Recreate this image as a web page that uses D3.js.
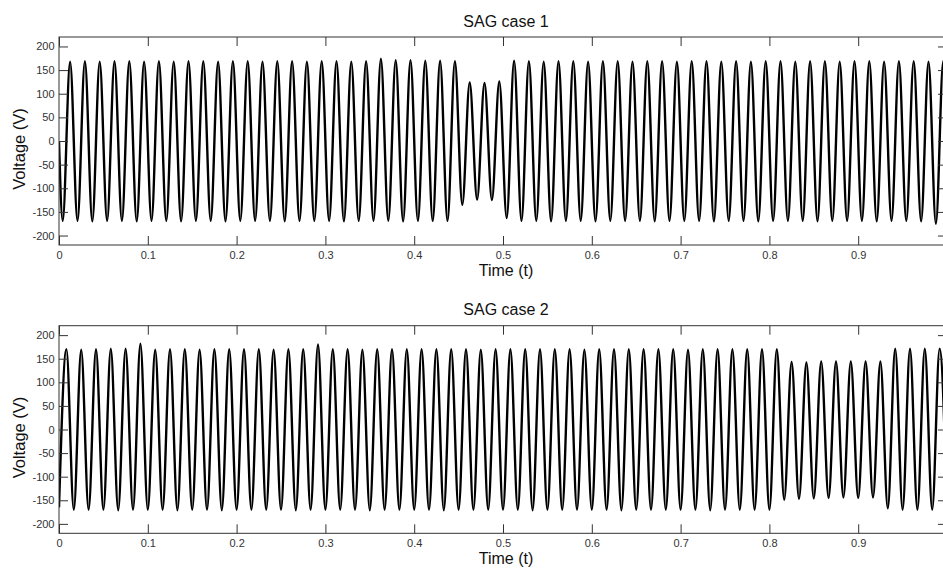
<!DOCTYPE html>
<html>
<head>
<meta charset="utf-8">
<script src="https://cdn.jsdelivr.net/npm/d3@7"></script>
<style>
  body { margin: 0; background: #fff; }
  text { font-family: Arial, "Liberation Sans", sans-serif; }
</style>
</head>
<body>
<svg id="chart" width="943" height="571"></svg>
<script>
// Axis ticks and labels
const xTicks = [0, 0.1, 0.2, 0.3, 0.4, 0.5, 0.6, 0.7, 0.8, 0.9];
const yTicks = [-200, -150, -100, -50, 0, 50, 100, 150, 200];
const titles = ["SAG case 1", "SAG case 2"];
const xLabel = "Time (t)";
const yLabel = "Voltage (V)";

// 60 Hz supply: one extreme every half cycle
const halfCycle = 1 / 120;

// Case 1: starts at zero, first extreme (trough) at 1/240 s; trough/peak pairs per cycle
const case1Start = 0;
const case1End = 0;
const case1Extremes = [
  -169, 168, -169, 169, -170, 168, -169, 169, -169, 169,
  -170, 168, -169, 169, -169, 168, -170, 169, -169, 169,
  -169, 168, -170, 169, -169, 169, -169, 168, -169, 169,
  -170, 169, -169, 168, -169, 169, -169, 169, -170, 168,
  -169, 169, -169, 174, -169, 171, -170, 171, -169, 170,
  -169, 170, -169, 169, -135, 124, -124, 123, -125, 126,
  -163, 170, -169, 169, -169, 168, -170, 169, -169, 169,
  -169, 168, -170, 169, -169, 169, -169, 168, -169, 169,
  -170, 169, -169, 168, -169, 169, -169, 169, -170, 168,
  -169, 169, -169, 168, -170, 169, -169, 169, -169, 168,
  -169, 169, -170, 169, -169, 168, -169, 169, -169, 169,
  -170, 168, -169, 169, -169, 169, -170, 168, -175, 169
];

// Case 2: starts at a trough at 0 s; trough/peak pairs per cycle, closing trough at 1 s
const case2Extremes = [
  -165, 170, -170, 169, -170, 170, -170, 171, -171, 171,
  -170, 182, -170, 169, -170, 170, -171, 170, -170, 169,
  -170, 170, -171, 170, -170, 170, -170, 170, -170, 169,
  -170, 170, -171, 170, -170, 180, -170, 170, -170, 170,
  -170, 169, -171, 170, -170, 170, -170, 170, -170, 170,
  -170, 170, -171, 170, -170, 170, -170, 169, -170, 170,
  -170, 170, -170, 170, -171, 170, -170, 170, -170, 170,
  -170, 169, -170, 170, -170, 170, -171, 170, -170, 170,
  -170, 170, -170, 170, -170, 169, -170, 170, -171, 170,
  -170, 170, -170, 170, -170, 170, -170, 170, -149, 143,
  -147, 142, -146, 144, -145, 144, -144, 144, -145, 144,
  -144, 144, -167, 171, -170, 171, -170, 171, -170, 171,
  -170
];

const case1Points = [[0, case1Start]]
  .concat(case1Extremes.map((v, i) => [halfCycle / 2 + i * halfCycle, v]))
  .concat([[1, case1End]]);
const case2Points = case2Extremes.map((v, i) => [i * halfCycle, v]);

const panels = [
  { top: 37, bottom: 245, points: case1Points, title: titles[0] },
  { top: 325.7, bottom: 533.3, points: case2Points, title: titles[1] }
];

const left = 59, right = 947;
const ink = "#333";
const svg = d3.select("#chart");

panels.forEach((p, idx) => {
  const x = d3.scaleLinear().domain([0, 1]).range([left, right]);
  const y = d3.scaleLinear().domain([-220, 220]).range([p.bottom, p.top]);
  const g = svg.append("g");

  const clipId = "clip" + idx;
  g.append("clipPath").attr("id", clipId)
    .append("rect")
    .attr("x", left).attr("y", p.top)
    .attr("width", right - left).attr("height", p.bottom - p.top);

  // waveform
  const line = d3.line()
    .x(d => x(d[0]))
    .y(d => y(d[1]))
    .curve(d3.curveMonotoneX);
  g.append("path")
    .datum(p.points)
    .attr("clip-path", `url(#${clipId})`)
    .attr("fill", "none")
    .attr("stroke", "#000")
    .attr("stroke-width", 2.4)
    .attr("stroke-linejoin", "round")
    .attr("d", line);

  // axes with inward ticks
  const styleAxis = sel => {
    sel.select(".domain").remove();
    sel.selectAll(".tick line").attr("stroke", ink);
    sel.selectAll(".tick text").attr("fill", ink).attr("font-size", 11)
      .attr("font-family", "Arial, 'Liberation Sans', sans-serif");
  };
  g.append("g").attr("transform", `translate(0,${p.bottom})`)
    .call(d3.axisBottom(x).tickValues(xTicks).tickSize(-9).tickPadding(6)
      .tickFormat(d => String(d)))
    .call(styleAxis);
  g.append("g").attr("transform", `translate(0,${p.top})`)
    .call(d3.axisTop(x).tickValues(xTicks).tickSize(-9).tickFormat(""))
    .call(styleAxis);
  g.append("g").attr("transform", `translate(${left},0)`)
    .call(d3.axisLeft(y).tickValues(yTicks).tickSize(-9).tickPadding(4.5)
      .tickFormat(d => String(d)))
    .call(styleAxis);
  g.append("g").attr("transform", `translate(${right},0)`)
    .call(d3.axisRight(y).tickValues(yTicks).tickSize(-9).tickFormat(""))
    .call(styleAxis);

  // frame
  g.append("rect")
    .attr("x", left).attr("y", p.top)
    .attr("width", right - left).attr("height", p.bottom - p.top)
    .attr("fill", "none").attr("stroke", ink).attr("stroke-width", 1);

  // title and axis labels
  g.append("text")
    .attr("x", 506).attr("y", p.top - 10.5)
    .attr("text-anchor", "middle").attr("font-size", 16).attr("fill", "#111")
    .text(p.title);
  g.append("text")
    .attr("x", 506).attr("y", p.bottom + 31)
    .attr("text-anchor", "middle").attr("font-size", 16).attr("fill", "#111")
    .text(xLabel);
  g.append("text")
    .attr("transform", `translate(24.5,${(p.top + p.bottom) / 2 + 8}) rotate(-90)`)
    .attr("text-anchor", "middle").attr("font-size", 16.5).attr("fill", "#111")
    .text(yLabel);
});
</script>
</body>
</html>
